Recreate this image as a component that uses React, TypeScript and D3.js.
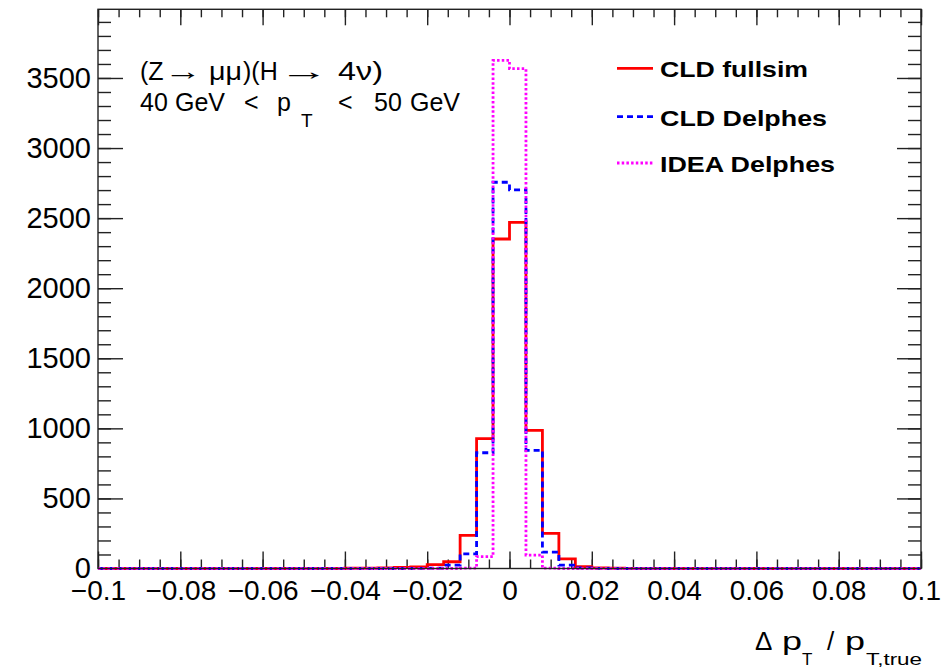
import React, { useEffect, useRef } from 'react';
import * as d3 from 'd3';

// histogram binning: 50 bins of 0.004 from -0.1 to 0.1
const xMin = -0.1;
const xMax = 0.1;
const binWidth = 0.004;

// bin contents (bin 0 starts at -0.1)
const cldFullsim = [
  0, 0, 0, 0, 0, 0, 0, 0, 0, 0,
  0, 0, 0, 0, 0, 2, 3, 5, 8, 12,
  28, 48, 236, 926, 2351, 2470, 986, 250, 68, 14,
  5, 3, 1, 0, 0, 0, 0, 0, 0, 0,
  0, 0, 0, 0, 0, 0, 0, 0, 0, 0,
];
const cldDelphes = [
  0, 0, 0, 0, 0, 0, 0, 0, 0, 0,
  0, 0, 0, 0, 0, 0, 0, 0, 0, 1,
  3, 24, 105, 826, 2756, 2701, 843, 117, 24, 4,
  1, 0, 0, 0, 0, 0, 0, 0, 0, 0,
  0, 0, 0, 0, 0, 0, 0, 0, 0, 0,
];
const ideaDelphes = [
  0, 0, 0, 0, 0, 0, 0, 0, 0, 0,
  0, 0, 0, 0, 0, 0, 0, 0, 0, 0,
  0, 0, 3, 85, 3625, 3566, 96, 3, 0, 0,
  0, 0, 0, 0, 0, 0, 0, 0, 0, 0,
  0, 0, 0, 0, 0, 0, 0, 0, 0, 0,
];

const xMajorTicks = [-0.1, -0.08, -0.06, -0.04, -0.02, 0, 0.02, 0.04, 0.06, 0.08, 0.1];
const xTickLabels = ['\u22120.1', '\u22120.08', '\u22120.06', '\u22120.04', '\u22120.02', '0', '0.02', '0.04', '0.06', '0.08', '0.1'];
const yMajorTicks = [0, 500, 1000, 1500, 2000, 2500, 3000, 3500];
const yMaxValue = 3990;

const seriesNames = ['CLD fullsim', 'CLD Delphes', 'IDEA Delphes'];
const seriesColors = ['#ff0000', '#0000ff', '#ff00ff'];
const seriesDash = [null, '6 4', '2.5 2.2'];

const FONT = '"Liberation Sans", Arial, Helvetica, sans-serif';

const App = () => {
  const ref = useRef<SVGSVGElement>(null);

  useEffect(() => {
    const svg = d3.select(ref.current);
    svg.selectAll('*').remove();

    const width = 952;
    const height = 671;
    const left = 98, right = 921, top = 9.3, bottom = 568.5;

    svg.attr('width', width).attr('height', height);
    svg.append('rect').attr('width', width).attr('height', height).attr('fill', 'white');

    const x = d3.scaleLinear().domain([xMin, xMax]).range([left, right]);
    const y = d3.scaleLinear().domain([0, yMaxValue]).range([bottom, top]);

    const xMinor = d3.range(0, 41).map(i => xMin + i * 0.005);
    const yMinor = d3.range(0, 40).map(i => i * 100);

    // ticks, ROOT style (inside the frame, on all four sides)
    const tickColor = '#222';
    const g = svg.append('g').attr('font-family', FONT);

    const drawAxis = (axis, transform) => {
      const a = g.append('g').attr('transform', transform).call(axis);
      a.select('.domain').remove();
      a.selectAll('line').attr('stroke', tickColor).attr('stroke-width', 1.4);
      return a;
    };

    drawAxis(d3.axisBottom(x).tickValues(xMinor).tickSize(-9).tickFormat(() => ''), `translate(0,${bottom})`);
    drawAxis(d3.axisTop(x).tickValues(xMinor).tickSize(-8).tickFormat(() => ''), `translate(0,${top})`);
    drawAxis(d3.axisTop(x).tickValues(xMajorTicks).tickSize(-16).tickFormat(() => ''), `translate(0,${top})`);
    const xAx = drawAxis(
      d3.axisBottom(x).tickValues(xMajorTicks).tickSize(-17).tickPadding(12)
        .tickFormat((d, i) => xTickLabels[i]),
      `translate(0,${bottom})`
    );
    xAx.selectAll('text').attr('font-size', 28).attr('fill', '#000').attr('font-family', FONT);

    drawAxis(d3.axisLeft(y).tickValues(yMinor).tickSize(-13).tickFormat(() => ''), `translate(${left},0)`);
    drawAxis(d3.axisRight(y).tickValues(yMinor).tickSize(-13).tickFormat(() => ''), `translate(${right},0)`);
    drawAxis(d3.axisRight(y).tickValues(yMajorTicks).tickSize(-24).tickFormat(() => ''), `translate(${right},0)`);
    const yAx = drawAxis(
      d3.axisLeft(y).tickValues(yMajorTicks).tickSize(-25).tickPadding(7).tickFormat(d3.format('d')),
      `translate(${left},0)`
    );
    yAx.selectAll('text').attr('font-size', 29).attr('fill', '#000').attr('font-family', FONT);

    // histograms as step outlines
    const histLine = d3.line().curve(d3.curveStepAfter);
    [cldFullsim, cldDelphes, ideaDelphes].forEach((vals, s) => {
      const pts = vals.map((v, i) => [x(xMin + i * binWidth), y(v)]);
      pts.push([x(xMax), y(vals[vals.length - 1])]);
      svg.append('path')
        .attr('d', histLine(pts))
        .attr('fill', 'none')
        .attr('stroke', seriesColors[s])
        .attr('stroke-width', 2.8)
        .attr('stroke-dasharray', seriesDash[s]);
    });

    // frame
    svg.append('rect')
      .attr('x', left).attr('y', top)
      .attr('width', right - left).attr('height', bottom - top)
      .attr('fill', 'none').attr('stroke', tickColor).attr('stroke-width', 1.4);

    // legend
    const legendY = [68.3, 116.7, 163];
    const legendLen = [148, 167, 175];
    seriesNames.forEach((name, s) => {
      svg.append('line')
        .attr('x1', 617).attr('x2', 653)
        .attr('y1', legendY[s]).attr('y2', legendY[s])
        .attr('stroke', seriesColors[s]).attr('stroke-width', 2.8)
        .attr('stroke-dasharray', seriesDash[s]);
      svg.append('text')
        .attr('x', 660).attr('y', legendY[s] + 9)
        .attr('font-family', FONT).attr('font-weight', 'bold').attr('font-size', 22)
        .attr('textLength', legendLen[s]).attr('lengthAdjust', 'spacingAndGlyphs')
        .text(name);
    });

    // process label
    const lab = svg.append('g').attr('font-family', FONT).attr('font-size', 25).attr('fill', '#000');
    const piece = (txt, px, py, len?, size?) => {
      const t = lab.append('text').attr('x', px).attr('y', py).text(txt);
      if (len) t.attr('textLength', len).attr('lengthAdjust', 'spacingAndGlyphs');
      if (size) t.attr('font-size', size);
    };
    piece('(Z', 140, 80);
    piece('\u2192', 164, 80, 38);
    piece('\u03bc\u03bc', 209, 80, 33);
    piece(')(H', 243, 80);
    piece('\u2192', 279, 80, 50);
    piece('4\u03bd)', 338, 80, 45);

    piece('40', 140, 111);
    piece('GeV', 175, 111);
    piece('<', 244, 111);
    piece('p', 277, 111);
    piece('T', 301, 127, 0, 19);
    piece('<', 338, 111);
    piece('50', 374, 111);
    piece('GeV', 410, 111);

    // x axis title
    const ttl = svg.append('g').attr('font-family', FONT).attr('fill', '#000');
    ttl.append('text').attr('x', 755).attr('y', 650).attr('font-size', 26).text('\u0394');
    ttl.append('text').attr('x', 782).attr('y', 650).attr('font-size', 26)
      .attr('textLength', 20).attr('lengthAdjust', 'spacingAndGlyphs').text('p');
    ttl.append('text').attr('x', 802).attr('y', 665).attr('font-size', 17).text('T');
    ttl.append('text').attr('x', 827).attr('y', 650).attr('font-size', 26).text('/');
    ttl.append('text').attr('x', 845).attr('y', 650).attr('font-size', 26)
      .attr('textLength', 20).attr('lengthAdjust', 'spacingAndGlyphs').text('p');
    ttl.append('text').attr('x', 866).attr('y', 665).attr('font-size', 17)
      .attr('textLength', 56).attr('lengthAdjust', 'spacingAndGlyphs').text('T,true');
  }, []);

  return (
    <svg ref={ref} style={{ position: 'absolute', left: 0, top: 0, display: 'block' }} />
  );
};

export default App;
